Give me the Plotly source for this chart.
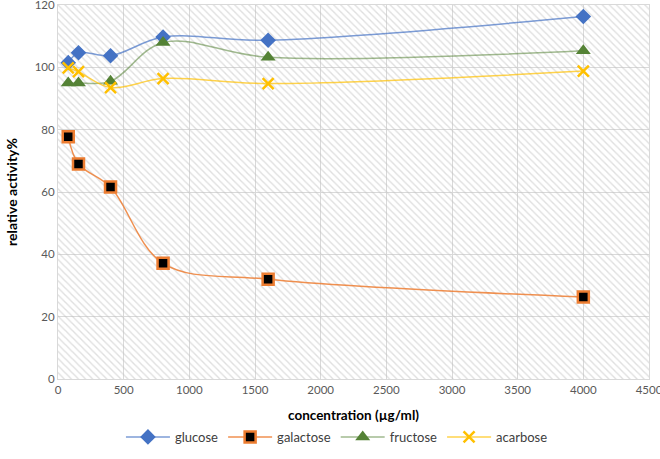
import plotly.graph_objects as go

concentration = [78, 156, 400, 800, 1600, 4000]
glucose = [101.5, 104.7, 103.7, 109.7, 108.7, 116.3]
galactose = [77.7, 69.0, 61.6, 37.1, 32.0, 26.3]
fructose = [95.0, 95.0, 95.5, 108.0, 103.2, 105.3]
acarbose = [99.8, 98.6, 93.5, 96.4, 94.8, 98.8]

x_range = [0, 4500]
y_range = [0, 120]

FONT = "Lato"
fig = go.Figure()

# hatched plot-area background built from the axis ranges
fig.add_trace(go.Scatter(
    x=[x_range[0], x_range[1], x_range[1], x_range[0], x_range[0]],
    y=[y_range[0], y_range[0], y_range[1], y_range[1], y_range[0]],
    mode="lines", line=dict(width=0), fill="toself",
    fillcolor="rgba(0,0,0,0)",
    fillpattern=dict(shape="\\", fgcolor="#bfbfbf", bgcolor="rgba(0,0,0,0)",
                     size=5, solidity=0.27),
    hoverinfo="skip", showlegend=False))

series = [
    ("glucose", glucose, "rgba(68,114,196,0.7)", dict(symbol="diamond", size=12, color="#4472C4")),
    ("galactose", galactose, "rgba(237,125,49,0.85)", dict(symbol="square", size=11, color="#000000",
                                                          line=dict(color="#ED7D31", width=2.5))),
    ("fructose", fructose, "rgba(84,130,53,0.55)", dict(symbol="triangle-up", size=13, color="#548235")),
    ("acarbose", acarbose, "rgba(255,192,0,0.7)", dict(symbol="x-thin", size=11,
                                                      line=dict(color="#FFC000", width=2.5), color="#FFC000")),
]
for name, ys, lc, mk in series:
    fig.add_trace(go.Scatter(x=concentration, y=ys, name=name, mode="lines+markers",
                             line=dict(color=lc, width=1.5, shape="spline", smoothing=1),
                             marker=mk))

axis_common = dict(showgrid=True, gridcolor="#d9d9d9", gridwidth=1, zeroline=False,
                   showline=True, linecolor="#d9d9d9", mirror=True, ticks="", automargin=False,
                   ticklabeloverflow="allow",
                   tickfont=dict(family=FONT, size=11.5, color="#595959"))
fig.update_xaxes(range=x_range, dtick=500, tick0=0,
                 title=dict(text="<b>concentration (µg/ml)</b>", font=dict(family=FONT, size=13.5, color="#000"),
                            standoff=15), **axis_common)
fig.update_yaxes(range=y_range, dtick=20, tick0=0,
                 title=dict(text="<b>relative activity%</b>", font=dict(family=FONT, size=14, color="#000"),
                            standoff=13), **axis_common)

fig.update_layout(
    width=660, height=459, margin=dict(l=58, r=11, t=5, b=80),
    plot_bgcolor="white", paper_bgcolor="white",
    font=dict(family=FONT, size=12, color="#404040"),
    legend=dict(orientation="h", x=0.472, xanchor="center", y=-0.155, yanchor="middle",
                font=dict(family=FONT, size=13, color="#404040"), itemwidth=44, traceorder="normal"),
)

fig.write_html("out.html", config={"displayModeBar": False},
               post_script="document.body.style.margin='0';document.body.style.overflow='hidden';")
